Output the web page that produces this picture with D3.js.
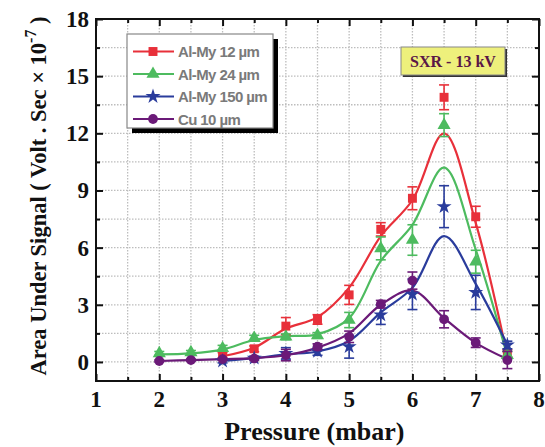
<!DOCTYPE html>
<html>
<meta charset="utf-8">
<title>Area Under Signal vs Pressure</title>
<style>
	body { margin: 0; background-color: #ffffff; }
	svg { display: block; }
	.tick-label { font: bold 23px "Liberation Serif"; fill: #111; }
	.axis-title { font: bold 26px "Liberation Serif"; fill: #111; }
	.legend-text { font: bold 15px "Liberation Sans"; fill: #7a7a7a; letter-spacing: -0.6px; }
	.note-text { font: bold 16px "Liberation Serif"; fill: #5a1746; }
</style>
<body>
<div id="chart"></div>
<script src="https://cdn.jsdelivr.net/npm/d3@7"></script>
<script>

	// Data
	var seriesNames = ["Al-My 12 \u00b5m", "Al-My 24 \u00b5m", "Al-My 150 \u00b5m", "Cu 10 \u00b5m"];

	var pressure12 = [3, 3.5, 4, 4.5, 5, 5.5, 6, 6.5, 7, 7.5];
	var signal12 = [0.34, 0.69, 1.88, 2.23, 3.52, 6.96, 8.59, 13.89, 7.62, 0.45];
	var err12 = [0.15, 0.15, 0.45, 0.25, 0.5, 0.35, 0.6, 0.65, 0.55, 0.2];
	var fit12 = [0.3, 0.75, 1.75, 2.35, 3.9, 6.6, 8.5, 12.0, 7.3, 0.3];

	var pressure24 = [2, 2.5, 3, 3.5, 4, 4.5, 5, 5.5, 6, 6.5, 7, 7.5];
	var signal24 = [0.45, 0.5, 0.72, 1.25, 1.32, 1.39, 2.2, 5.96, 6.4, 12.43, 5.26, 0.35];
	var err24 = [0.1, 0.1, 0.15, 0.15, 0.15, 0.15, 0.4, 0.6, 0.8, 0.6, 0.6, 0.2];
	var fit24 = [0.4, 0.45, 0.65, 1.15, 1.35, 1.45, 2.3, 5.3, 7.2, 10.2, 5.9, 0.3];

	var pressure150 = [3, 3.5, 4, 4.5, 5, 5.5, 6, 6.5, 7, 7.5];
	var signal150 = [0.05, 0.2, 0.45, 0.55, 0.8, 2.47, 3.55, 8.15, 3.65, 0.89];
	var err150 = [0.1, 0.1, 0.3, 0.2, 0.6, 0.5, 0.8, 1.1, 0.9, 0.2];
	var fit150 = [0.05, 0.2, 0.4, 0.55, 1.1, 2.6, 3.9, 6.6, 4.1, 0.9];

	var pressureCu = [2, 2.5, 3, 3.5, 4, 4.5, 5, 5.5, 6, 6.5, 7, 7.5];
	var signalCu = [0.05, 0.1, 0.15, 0.18, 0.36, 0.8, 1.32, 3.03, 4.27, 2.24, 1.01, 0.1];
	var errCu = [0.05, 0.05, 0.05, 0.05, 0.3, 0.15, 0.3, 0.2, 0.45, 0.45, 0.25, 0.45];
	var fitCu = [0.05, 0.1, 0.15, 0.2, 0.35, 0.75, 1.5, 3.0, 3.75, 2.3, 1.0, 0.15];

	var xTicks = [1, 2, 3, 4, 5, 6, 7, 8];
	var yTicks = [0, 3, 6, 9, 12, 15, 18];

	var colors = ["#e8303a", "#4dbb5f", "#2a3c9c", "#6b1a78"];
	var symbols = [d3.symbolSquare, d3.symbolTriangle, d3.symbolStar, d3.symbolCircle];
	var symbolSizes = [80, 75, 70, 75];

	var series = [
		{ x: pressure12, y: signal12, e: err12, fit: fit12 },
		{ x: pressure24, y: signal24, e: err24, fit: fit24 },
		{ x: pressure150, y: signal150, e: err150, fit: fit150 },
		{ x: pressureCu, y: signalCu, e: errCu, fit: fitCu }
	];

	// Chart dimensions
	var W = 545, H = 447;
	var margin = { top: 19, right: 6, bottom: 66, left: 96 },
		width = W - margin.left - margin.right,
		height = H - margin.top - margin.bottom;

	var svg = d3.select("#chart").append("svg")
		.attr("width", W)
		.attr("height", H);

	var g = svg.append("g")
		.attr("transform", "translate(" + margin.left + "," + margin.top + ")");

	var xScale = d3.scaleLinear().domain([1, 8]).range([0, width]);
	var yScale = d3.scaleLinear().domain([-1, 18]).range([height, 0]);

	var xMinor = d3.range(1.5, 8, 1);
	var yMinor = d3.range(1.5, 18, 3);

	// Dotted grid
	var grid = g.append("g").attr("class", "grid");
	grid.selectAll(".vx").data(xTicks.concat(xMinor).filter(function (d) { return d > 1 && d < 8; }))
		.enter().append("line")
		.attr("x1", function (d) { return xScale(d); })
		.attr("x2", function (d) { return xScale(d); })
		.attr("y1", 0).attr("y2", height)
		.attr("stroke", "#bdbdbd").attr("stroke-width", 1.3)
		.attr("stroke-dasharray", "1.5,1.5");
	grid.selectAll(".hy").data(yTicks.concat(yMinor).filter(function (d) { return d < 18; }))
		.enter().append("line")
		.attr("y1", function (d) { return yScale(d); })
		.attr("y2", function (d) { return yScale(d); })
		.attr("x1", 0).attr("x2", width)
		.attr("stroke", "#bdbdbd").attr("stroke-width", 1.3)
		.attr("stroke-dasharray", "1.5,1.5");

	// Axes with inward ticks on all sides
	function addAxis(axis, transform) {
		var a = g.append("g").attr("transform", transform).call(axis);
		a.select(".domain").remove();
		a.selectAll("line").attr("stroke", "#111").attr("stroke-width", 2);
		a.selectAll("text").remove();
		return a;
	}
	addAxis(d3.axisBottom(xScale).tickValues(xTicks).tickSize(-7), "translate(0," + height + ")");
	addAxis(d3.axisBottom(xScale).tickValues(xMinor).tickSize(-4), "translate(0," + height + ")");
	addAxis(d3.axisTop(xScale).tickValues(xTicks).tickSize(-7), "translate(0,0)");
	addAxis(d3.axisTop(xScale).tickValues(xMinor).tickSize(-4), "translate(0,0)");
	addAxis(d3.axisLeft(yScale).tickValues(yTicks).tickSize(-7), "translate(0,0)");
	addAxis(d3.axisLeft(yScale).tickValues(yMinor).tickSize(-4), "translate(0,0)");
	addAxis(d3.axisRight(yScale).tickValues(yTicks).tickSize(-7), "translate(" + width + ",0)");
	addAxis(d3.axisRight(yScale).tickValues(yMinor).tickSize(-4), "translate(" + width + ",0)");

	g.append("rect")
		.attr("width", width).attr("height", height)
		.attr("fill", "none").attr("stroke", "#111").attr("stroke-width", 2);

	// Tick labels
	g.selectAll(".xl").data(xTicks).enter().append("text")
		.attr("class", "tick-label")
		.attr("x", function (d) { return xScale(d); })
		.attr("y", height + 26)
		.attr("text-anchor", "middle")
		.text(function (d) { return d; });
	g.selectAll(".yl").data(yTicks).enter().append("text")
		.attr("class", "tick-label")
		.attr("x", -7)
		.attr("y", function (d) { return yScale(d) + 8; })
		.attr("text-anchor", "end")
		.text(function (d) { return d; });

	// Axis titles
	svg.append("text")
		.attr("class", "axis-title")
		.attr("x", margin.left + xScale(4.45))
		.attr("y", 440)
		.attr("text-anchor", "middle")
		.text("Pressure (mbar)");

	var yTitle = svg.append("text")
		.attr("class", "axis-title")
		.attr("transform", "translate(46,196) rotate(-90)")
		.attr("text-anchor", "middle")
		.style("font-size", "22.5px");
	yTitle.append("tspan").text("Area Under Signal ( Volt . Sec \u00d7 10");
	yTitle.append("tspan").attr("dy", -10).style("font-size", "16px").text("-7");
	yTitle.append("tspan").attr("dy", 10).text(" )");

	// Fitted curves
	var line = d3.line()
		.x(function (d) { return xScale(d[0]); })
		.y(function (d) { return yScale(d[1]); })
		.curve(d3.curveCatmullRom.alpha(0.5));

	series.forEach(function (s, i) {
		g.append("path")
			.datum(s.x.map(function (x, k) { return [x, s.fit[k]]; }))
			.attr("d", line)
			.attr("fill", "none")
			.attr("stroke", colors[i])
			.attr("stroke-width", 2.2);
	});

	// Error bars and markers
	series.forEach(function (s, i) {
		var pts = s.x.map(function (x, k) { return { x: x, y: s.y[k], e: s.e[k] }; });
		var eb = g.append("g").attr("stroke", colors[i]).attr("stroke-width", 1.6);
		pts.forEach(function (p) {
			var cx = xScale(p.x), y1 = yScale(p.y + p.e), y2 = yScale(p.y - p.e);
			eb.append("line").attr("x1", cx).attr("x2", cx).attr("y1", y1).attr("y2", y2);
			eb.append("line").attr("x1", cx - 5).attr("x2", cx + 5).attr("y1", y1).attr("y2", y1);
			eb.append("line").attr("x1", cx - 5).attr("x2", cx + 5).attr("y1", y2).attr("y2", y2);
		});
		g.append("g").selectAll("path").data(pts).enter().append("path")
			.attr("transform", function (p) { return "translate(" + xScale(p.x) + "," + yScale(p.y) + ")"; })
			.attr("d", d3.symbol().type(symbols[i]).size(symbolSizes[i]))
			.attr("fill", colors[i]);
	});

	// Legend
	var lg = svg.append("g").attr("transform", "translate(127,34)");
	lg.append("rect").attr("x", 5).attr("y", 5).attr("width", 146).attr("height", 94).attr("fill", "#000");
	lg.append("rect").attr("width", 146).attr("height", 94)
		.attr("fill", "#fff").attr("stroke", "#888").attr("stroke-width", 1.2);
	seriesNames.forEach(function (name, i) {
		var yy = 17.5 + i * 22.5;
		lg.append("line").attr("x1", 6).attr("x2", 47).attr("y1", yy).attr("y2", yy)
			.attr("stroke", colors[i]).attr("stroke-width", 2.2);
		lg.append("path").attr("transform", "translate(26," + yy + ")")
			.attr("d", d3.symbol().type(symbols[i]).size(symbolSizes[i]))
			.attr("fill", colors[i]);
		lg.append("text").attr("class", "legend-text")
			.attr("x", 51).attr("y", yy + 5.5)
			.text(name);
	});

	// Annotation box
	var nb = svg.append("g").attr("transform", "translate(401,47)");
	nb.append("rect").attr("x", 2).attr("y", 2).attr("width", 104).attr("height", 28).attr("fill", "#333");
	nb.append("rect").attr("width", 104).attr("height", 28)
		.attr("fill", "#eef07c").attr("stroke", "#888").attr("stroke-width", 1);
	nb.append("text").attr("class", "note-text")
		.attr("x", 52).attr("y", 20)
		.attr("text-anchor", "middle")
		.text("SXR - 13 kV");

</script>
</body>
</html>
